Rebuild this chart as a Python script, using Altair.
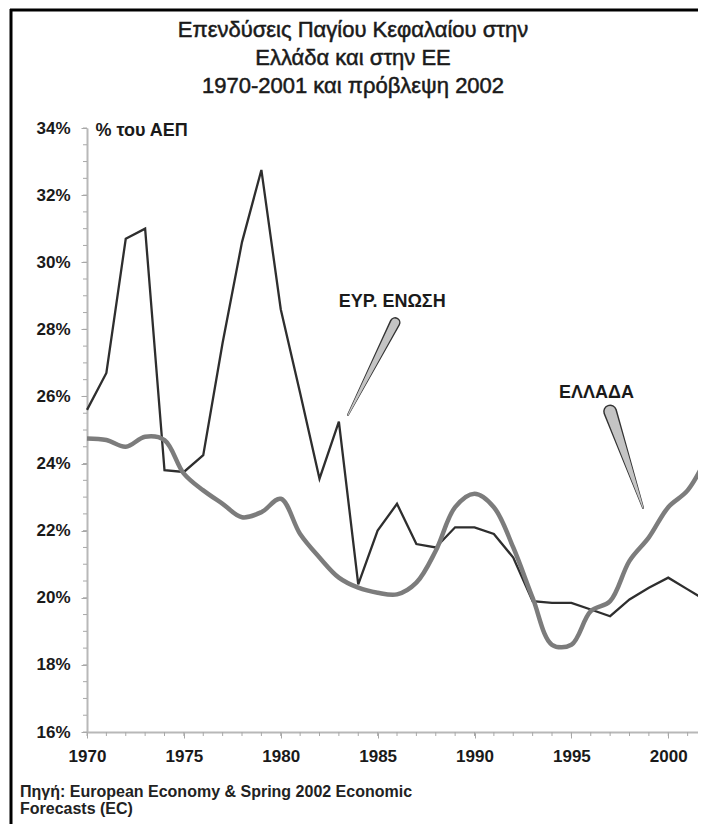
import altair as alt
import pandas as pd

# ---- data ----
years = list(range(1970, 2003))
dark_series = [25.6, 26.7, 30.7, 31.0, 23.8, 23.75, 24.25, 27.6, 30.6, 32.75,
               28.6, 26.1, 23.55, 25.25, 20.4, 22.0, 22.8, 21.6, 21.5, 22.1,
               22.1, 21.9, 21.2, 19.9, 19.85, 19.85, 19.65, 19.45, 19.95, 20.3,
               20.6, 20.25, 19.9]
grey_series = [24.75, 24.7, 24.5, 24.8, 24.7, 23.7, 23.2, 22.8, 22.4, 22.55,
               22.95, 21.9, 21.2, 20.6, 20.3, 20.15, 20.1, 20.45, 21.4, 22.7,
               23.1, 22.7, 21.5, 20.0, 18.6, 18.6, 19.6, 19.9, 21.1, 21.8,
               22.7, 23.2, 24.2]

title_lines = ["Επενδύσεις Παγίου Κεφαλαίου στην",
               "Ελλάδα και στην ΕΕ",
               "1970-2001 και πρόβλεψη 2002"]
y_title = "% του ΑΕΠ"
source_lines = ["Πηγή: European Economy & Spring 2002 Economic",
                "Forecasts (EC)"]

# annotations (labels and callout wedges)
ann_text = ["ΕΥΡ. ΕΝΩΣΗ", "ΕΛΛΑΔΑ"]
ann_year = [1985.75, 1996.3]
ann_value = [28.8, 26.1]

wedge_id = ["eu", "eu", "gr", "gr"]
wedge_year = [1985.9, 1983.47, 1997.0, 1998.7]
wedge_value = [28.2, 25.45, 25.55, 22.68]
wedge_order = [0, 1, 0, 1]
wedge_outer = [11, 2, 14, 2]
wedge_inner = [8, 0, 11, 0]

x_major = [1970, 1975, 1980, 1985, 1990, 1995, 2000]
x_minor = years
y_major = [16, 18, 20, 22, 24, 26, 28, 30, 32, 34]
y_minor = [16 + 0.5 * i for i in range(37)]

dark_df = pd.DataFrame({"year": years, "value": dark_series})
grey_df = pd.DataFrame({"year": years, "value": grey_series})
ann_df = pd.DataFrame({"year": ann_year, "value": ann_value, "label": ann_text})
wedge_df = pd.DataFrame({"id": wedge_id, "year": wedge_year, "value": wedge_value,
                         "order": wedge_order, "outer": wedge_outer,
                         "inner": wedge_inner})
xminor_df = pd.DataFrame({"year": x_minor})
yminor_df = pd.DataFrame({"value": y_minor})
one = pd.DataFrame({"k": [0]})

FONT = "Liberation Sans"
TICK = "#a8a8a8"
x_scale = alt.Scale(domain=[1970, 2002], nice=False, zero=False)
y_scale = alt.Scale(domain=[16, 34], nice=False, zero=False)

x_axis = alt.Axis(values=x_major, format="d", title=None, grid=False,
                  tickSize=6, tickColor=TICK, domainColor="#b8b8b8",
                  domainWidth=2, labelFont=FONT, labelFontSize=17,
                  labelFontWeight="bold", labelColor="#1a1a1a",
                  labelPadding=10, labelFlush=False, labelOverlap=False)
y_axis = alt.Axis(values=y_major, labelExpr="datum.value + '%'",
                  title=y_title, titleAngle=0, titleAlign="left",
                  titleBaseline="middle", titleX=8, titleY=2, titleFont=FONT,
                  titleFontSize=18, titleFontWeight="bold", titleColor="#1a1a1a",
                  grid=False, tickSize=6, tickColor=TICK,
                  domainColor="#b8b8b8", domainWidth=2, labelFont=FONT,
                  labelFontSize=17, labelFontWeight="bold", labelColor="#1a1a1a",
                  labelPadding=11, labelOverlap=False)

X = alt.X("year:Q", scale=x_scale)
Y = alt.Y("value:Q", scale=y_scale)

dark_line = alt.Chart(dark_df).mark_line(color="#2e2e2e", strokeWidth=2.3).encode(
    x=alt.X("year:Q", scale=x_scale, axis=x_axis),
    y=alt.Y("value:Q", scale=y_scale, axis=y_axis))

grey_line = alt.Chart(grey_df).mark_line(color="#7c7c7c", strokeWidth=4.5,
                                         interpolate="catmull-rom").encode(x=X, y=Y)

x_minor_ticks = alt.Chart(xminor_df).mark_rule(color=TICK, strokeWidth=1).encode(
    x=X, y=alt.value(604), y2=alt.value(608))
y_minor_ticks = alt.Chart(yminor_df).mark_rule(color=TICK, strokeWidth=1).encode(
    y=Y, x=alt.value(-4), x2=alt.value(0))

wedge_outer_l = alt.Chart(wedge_df).mark_trail(color="#333333").encode(
    x=X, y=Y, detail="id:N", order="order:Q",
    size=alt.Size("outer:Q", scale=None, legend=None))
wedge_inner_l = alt.Chart(wedge_df).mark_trail(color="#c4c4c4").encode(
    x=X, y=Y, detail="id:N", order="order:Q",
    size=alt.Size("inner:Q", scale=None, legend=None))

ann = alt.Chart(ann_df).mark_text(font=FONT, fontSize=18, fontWeight="bold",
                                  color="#1a1a1a", baseline="middle",
                                  align="center").encode(x=X, y=Y, text="label:N")

title = alt.Chart(one).mark_text(
    text=title_lines, font="Liberation Sans Narrow, Arial Narrow, Liberation Sans",
    fontSize=22, color="#1a1a1a", stroke="#1a1a1a", strokeWidth=0.5,
    align="center", baseline="top", lineHeight=28).encode(
    x=alt.value(266), y=alt.value(-108))

source = alt.Chart(one).mark_text(
    text=source_lines, font=FONT, fontSize=16, fontWeight="bold",
    color="#222222", align="left", baseline="top", lineHeight=17).encode(
    x=alt.value(-67), y=alt.value(656))

frame_left = alt.Chart(one).mark_rule(color="#000000", strokeWidth=3).encode(
    x=alt.value(-76), y=alt.value(-119), y2=alt.value(700))
frame_top = alt.Chart(one).mark_rule(color="#000000", strokeWidth=3).encode(
    x=alt.value(-77), x2=alt.value(640), y=alt.value(-118))

chart = alt.layer(
    dark_line, x_minor_ticks, y_minor_ticks, grey_line, wedge_outer_l,
    wedge_inner_l, ann, title, source, frame_left, frame_top
).properties(
    width=620, height=604,
    padding={"left": 79, "top": 120, "right": -9, "bottom": 92},
    autosize=alt.AutoSizeParams(type="none"),
    background="white",
).configure_view(stroke=None)

chart.save("out.html", embed_options={"renderer": "svg", "actions": False})
